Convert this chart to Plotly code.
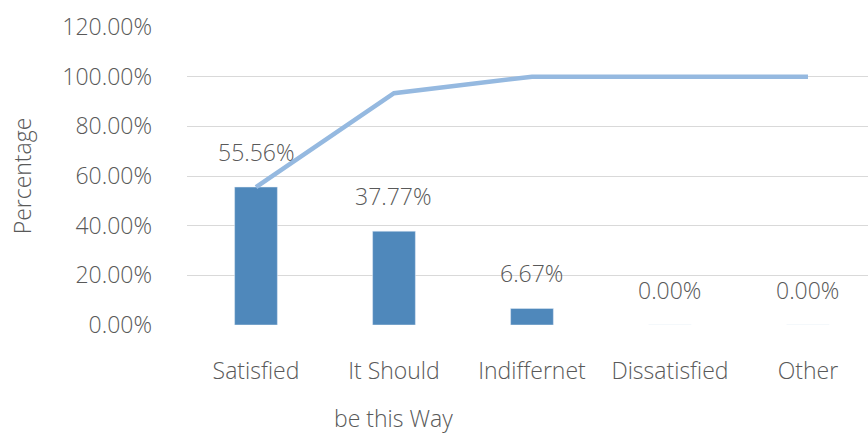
import plotly.graph_objects as go

categories = ["Satisfied", "It Should", "Indiffernet", "Dissatisfied", "Other"]
percent = [55.56, 37.77, 6.67, 0.00, 0.00]
cumulative = [55.56, 93.33, 100.00, 100.00, 100.00]
y_ticks = [0, 20, 40, 60, 80, 100, 120]
y_tick_labels = ["0.00%", "20.00%", "40.00%", "60.00%", "80.00%", "100.00%", "120.00%"]
second_line = "be this Way"

FONT = "Open Sans"
GREY = "#595959"
SIZE = 23
W = 300

fig = go.Figure()
fig.add_trace(go.Bar(
    x=categories, y=percent, marker_color="#4F88BB", width=0.31,
    hoverinfo="skip", showlegend=False,
))
fig.add_trace(go.Scatter(
    x=categories, y=cumulative, mode="lines",
    line=dict(color="#95B9E0", width=4.5),
    hoverinfo="skip", showlegend=False,
))
for c, v in zip(categories, percent):
    fig.add_annotation(
        x=c, y=v, xref="x", yref="y", text=f"{v:.2f}%",
        showarrow=False, yanchor="middle", yshift=35,
        font=dict(family=FONT, size=SIZE, color=GREY, weight=W),
    )
fig.add_annotation(
    x=categories[1], y=0, xref="x", yref="paper", text=second_line,
    showarrow=False, yanchor="middle", yshift=-93,
    font=dict(family=FONT, size=SIZE, color=GREY, weight=W),
)

fig.update_layout(
    width=868, height=434,
    margin=dict(l=187, r=0, t=27, b=109),
    paper_bgcolor="white", plot_bgcolor="white",
    font=dict(family=FONT, size=SIZE, color=GREY, weight=W),
    bargap=0.69,
    xaxis=dict(
        range=[-0.5, 4.435], showgrid=False, zeroline=False, showline=False,
        ticks="", ticklabelstandoff=30,
        tickfont=dict(family=FONT, size=SIZE, color=GREY, weight=W),
    ),
    yaxis=dict(
        range=[0, 120], tickvals=y_ticks, ticktext=y_tick_labels,
        showgrid=True, gridcolor="#D9D9D9", gridwidth=1.3,
        zeroline=False, showline=False, ticks="", ticklabelstandoff=34,
        tickfont=dict(family=FONT, size=SIZE, color=GREY, weight=W),
        title=dict(text="Percentage", standoff=24,
                   font=dict(family=FONT, size=SIZE, color=GREY, weight=W)),
    ),
)
fig.write_html("out.html")
